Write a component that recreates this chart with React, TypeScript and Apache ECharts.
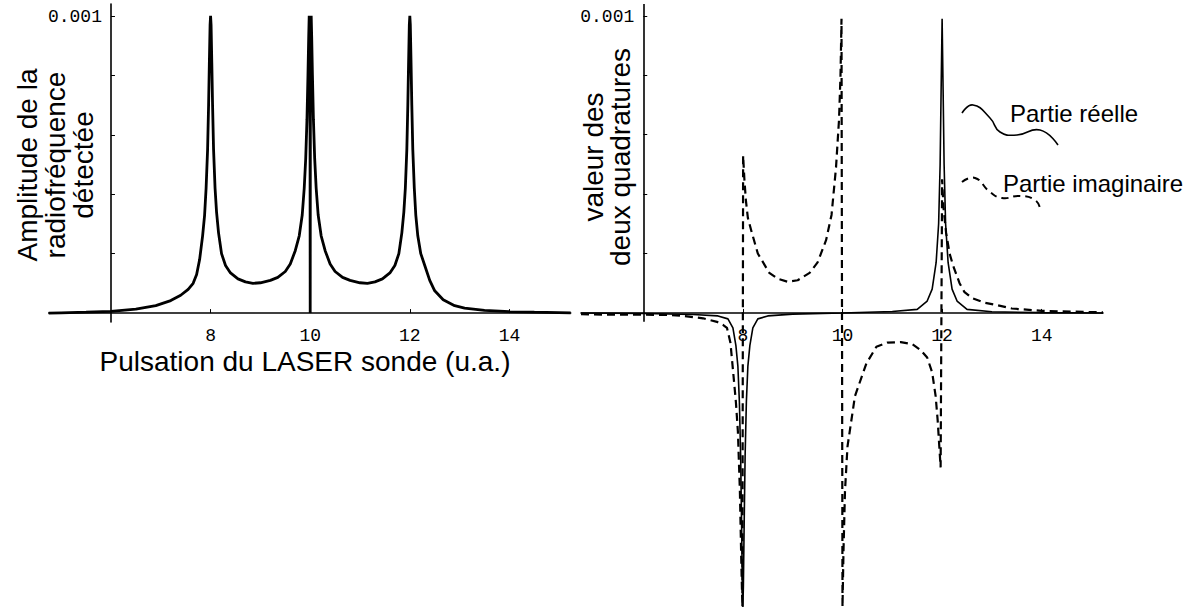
import React, { useEffect, useRef } from "react";
import * as echarts from "echarts";

// ---------- data ----------
// Left panel: amplitude of detected RF (units of 1e-3)
const ampX = [4.75, 5.0, 5.5, 6.0, 6.5, 6.9, 7.2, 7.4, 7.55, 7.65, 7.72, 7.78, 7.84, 7.88, 7.91, 7.94, 7.96, 7.975, 7.99, 8.0, 8.01, 8.025, 8.04, 8.06, 8.09, 8.12, 8.16, 8.22, 8.3, 8.4, 8.55, 8.7, 8.85, 9.0, 9.2, 9.35, 9.5, 9.6, 9.7, 9.78, 9.84, 9.88, 9.91, 9.935, 9.955, 9.97, 9.98, 9.99, 9.997, 10.0, 10.003, 10.01, 10.02, 10.03, 10.045, 10.065, 10.09, 10.12, 10.16, 10.22, 10.3, 10.4, 10.5, 10.65, 10.8, 11.0, 11.15, 11.3, 11.45, 11.6, 11.7, 11.78, 11.84, 11.88, 11.91, 11.94, 11.96, 11.975, 11.99, 12.0, 12.01, 12.025, 12.04, 12.06, 12.09, 12.12, 12.16, 12.22, 12.3, 12.4, 12.5, 12.67, 12.9, 13.1, 13.5, 14.0, 14.5, 15.23];
const ampY = [0.0, 0.001, 0.003, 0.006, 0.013, 0.025, 0.042, 0.06, 0.08, 0.1, 0.13, 0.18, 0.26, 0.33, 0.42, 0.55, 0.7, 0.84, 0.97, 1.0, 0.97, 0.84, 0.7, 0.55, 0.42, 0.34, 0.27, 0.2, 0.16, 0.135, 0.115, 0.105, 0.1, 0.102, 0.11, 0.12, 0.14, 0.165, 0.21, 0.26, 0.33, 0.42, 0.52, 0.65, 0.8, 0.93, 1.0, 0.9, 0.6, 0.0, 0.6, 0.9, 1.0, 0.93, 0.8, 0.65, 0.52, 0.42, 0.33, 0.26, 0.21, 0.165, 0.14, 0.12, 0.11, 0.102, 0.1, 0.105, 0.115, 0.135, 0.16, 0.2, 0.27, 0.34, 0.42, 0.55, 0.7, 0.84, 0.97, 1.0, 0.97, 0.84, 0.7, 0.55, 0.42, 0.33, 0.26, 0.2, 0.16, 0.11, 0.075, 0.045, 0.025, 0.017, 0.009, 0.005, 0.003, 0.001];

// Right panel: real part (solid), units of 1e-3
const reX = [4.75, 6.0, 7.0, 7.5, 7.7, 7.8, 7.86, 7.9, 7.93, 7.955, 7.975, 7.99, 8.0, 8.01, 8.025, 8.045, 8.07, 8.1, 8.14, 8.2, 8.3, 8.5, 9.0, 10.0, 11.0, 11.5, 11.7, 11.8, 11.88, 11.93, 11.96, 11.98, 12.0, 12.02, 12.04, 12.07, 12.12, 12.2, 12.3, 12.5, 13.0, 14.0, 15.23];
const reY = [0.0, -0.002, -0.005, -0.01, -0.02, -0.05, -0.11, -0.18, -0.3, -0.48, -0.72, -0.92, -0.99, -0.92, -0.72, -0.48, -0.3, -0.18, -0.11, -0.05, -0.02, -0.01, -0.004, 0.0, 0.005, 0.012, 0.04, 0.08, 0.17, 0.3, 0.5, 0.75, 0.99, 0.75, 0.5, 0.3, 0.17, 0.08, 0.04, 0.012, 0.004, 0.001, 0.0];

// Right panel: imaginary part (dashed), units of 1e-3
const imX = [4.75, 5.0, 5.5, 6.0, 6.5, 6.8, 7.2, 7.48, 7.6, 7.68, 7.75, 7.8, 7.86, 7.9, 7.94, 7.97, 7.99, 8.005, 8.03, 8.06, 8.1, 8.18, 8.3, 8.53, 8.7, 8.9, 9.1, 9.34, 9.5, 9.67, 9.78, 9.87, 9.93, 9.96, 9.98, 10.0, 10.02, 10.05, 10.1, 10.25, 10.48, 10.68, 10.9, 11.17, 11.4, 11.57, 11.7, 11.8, 11.87, 11.91, 11.97, 12.0, 12.03, 12.08, 12.15, 12.22, 12.35, 12.45, 12.6, 12.86, 13.08, 13.4, 14.0, 15.23];
const imY = [-0.004, -0.005, -0.006, -0.006, -0.007, -0.01, -0.018, -0.03, -0.04, -0.05, -0.1, -0.19, -0.3, -0.4, -0.6, -0.85, -0.99, 0.53, 0.45, 0.38, 0.32, 0.27, 0.2, 0.135, 0.115, 0.105, 0.11, 0.135, 0.17, 0.245, 0.33, 0.49, 0.65, 0.8, 0.99, -0.99, -0.8, -0.6, -0.45, -0.28, -0.17, -0.114, -0.1, -0.098, -0.105, -0.125, -0.15, -0.2, -0.28, -0.36, -0.52, 0.45, 0.35, 0.27, 0.2, 0.16, 0.1, 0.07, 0.05, 0.034, 0.027, 0.015, 0.007, 0.002];

const UNIT = 1e-3;
const xTickLabels = [8, 10, 12, 14];
const yTickValues = [0.0002, 0.0004, 0.0006, 0.0008, 0.001];
const yLabelValues = [0.001];
const yAxisAt = 6;

const texts = {
  leftYTitle: "Amplitude de la\nradiofréquence\ndétectée",
  rightYTitle: "valeur des\ndeux quadratures",
  xTitle: "Pulsation du LASER sonde (u.a.)",
  legendRe: "Partie réelle",
  legendIm: "Partie imaginaire",
};

// ---------- layout ----------
const L = { left: 48.7, width: 522, xMin: 4.75, xMax: 15.23, top: 4, height: 318, yMin: -0.00003, yMax: 0.00104 };
const R = { left: 581, width: 522, xMin: 4.75, xMax: 15.23, top: 4, height: 606, yMin: -0.001, yMax: 0.00104 };

const pairs = (xs: number[], ys: number[]) => xs.map((x, i) => [x, ys[i] * UNIT]);

const TICK_FONT = "Liberation Mono";
const TITLE_FONT = "Liberation Sans";

function xAxisCfg(grid: number, g: typeof L) {
  const offset = -((0 - g.yMin) / (g.yMax - g.yMin)) * g.height;
  return {
    gridIndex: grid,
    type: "value",
    min: g.xMin,
    max: g.xMax,
    position: "bottom",
    offset,
    axisLine: { show: true, onZero: false, lineStyle: { color: "#000", width: 1.6 } },
    axisTick: { show: true, inside: true, length: 4, customValues: xTickLabels, lineStyle: { color: "#000", width: 1 } },
    axisLabel: { show: false },
    splitLine: { show: false },
  };
}

function yAxisCfg(grid: number, g: typeof L, showLine: boolean) {
  const offset = -((yAxisAt - g.xMin) / (g.xMax - g.xMin)) * g.width;
  return {
    gridIndex: grid,
    type: "value",
    min: g.yMin,
    max: g.yMax,
    position: "left",
    offset,
    axisLine: { show: showLine, onZero: false, lineStyle: { color: "#000", width: 1.6 } },
    axisTick: { show: true, inside: true, length: 4, customValues: yTickValues, lineStyle: { color: "#000", width: 1 } },
    axisLabel: { show: false },
    splitLine: { show: false },
  };
}

export default function App() {
  const ref = useRef<HTMLDivElement>(null);
  useEffect(() => {
    if (!ref.current) return;
    const chart = echarts.init(ref.current, null, { renderer: "svg" });
    const baseGraphics: any[] = [
      {
        type: "text",
        x: 55,
        y: 165,
        rotation: Math.PI / 2,
        style: { text: texts.leftYTitle, fontFamily: TITLE_FONT, fontSize: 28, lineHeight: 28, fill: "#000", align: "center", verticalAlign: "middle" },
      },
      {
        type: "text",
        x: 607,
        y: 157,
        rotation: Math.PI / 2,
        style: { text: texts.rightYTitle, fontFamily: TITLE_FONT, fontSize: 28, lineHeight: 27, fill: "#000", align: "center", verticalAlign: "middle" },
      },
      {
        type: "text",
        x: 305,
        y: 361,
        style: { text: texts.xTitle, fontFamily: TITLE_FONT, fontSize: 28, fill: "#000", align: "center", verticalAlign: "middle" },
      },
      {
        type: "polyline",
        shape: { points: [[962, 113], [973, 105], [990, 118], [1000, 132], [1017, 135], [1040, 130], [1058, 145]], smooth: 0.5 },
        style: { stroke: "#000", lineWidth: 1.6, fill: null },
      },
      {
        type: "text",
        x: 1010,
        y: 113,
        style: { text: texts.legendRe, fontFamily: TITLE_FONT, fontSize: 24, fill: "#000", align: "left", verticalAlign: "middle" },
      },
      {
        type: "polyline",
        shape: { points: [[962, 182], [975, 178], [990, 192], [1002, 198], [1020, 196], [1035, 200], [1040, 208]], smooth: 0.5 },
        style: { stroke: "#000", lineWidth: 2, fill: null, lineDash: [7, 5] },
      },
      {
        type: "text",
        x: 1003,
        y: 183,
        style: { text: texts.legendIm, fontFamily: TITLE_FONT, fontSize: 24, fill: "#000", align: "left", verticalAlign: "middle" },
      },
    ];
    const option: any = {
      animation: false,
      backgroundColor: "#fff",
      grid: [
        { left: L.left, top: L.top, width: L.width, height: L.height, containLabel: false, outerBoundsMode: "none" },
        { left: R.left, top: R.top, width: R.width, height: R.height, containLabel: false, outerBoundsMode: "none" },
      ],
      xAxis: [xAxisCfg(0, L), xAxisCfg(1, R as any)],
      yAxis: [yAxisCfg(0, L, true), yAxisCfg(1, R as any, false)],
      series: [
        {
          name: "Amplitude",
          type: "line",
          xAxisIndex: 0,
          yAxisIndex: 0,
          data: pairs(ampX, ampY),
          showSymbol: false,
          symbol: "none",
          lineStyle: { color: "#000", width: 2.8 },
          z: 3,
        },
        {
          name: texts.legendRe,
          type: "line",
          xAxisIndex: 1,
          yAxisIndex: 1,
          data: pairs(reX, reY),
          showSymbol: false,
          symbol: "none",
          lineStyle: { color: "#000", width: 1.6 },
          z: 3,
          markLine: {
            silent: true,
            symbol: "none",
            label: { show: false },
            lineStyle: { color: "#000", width: 1.6, type: "solid" },
            data: [[{ coord: [yAxisAt, L.yMin] }, { coord: [yAxisAt, R.yMax] }]],
          },
        },
        {
          name: texts.legendIm,
          type: "line",
          xAxisIndex: 1,
          yAxisIndex: 1,
          data: pairs(imX, imY),
          showSymbol: false,
          symbol: "none",
          lineStyle: { color: "#000", width: 2.2, type: [8, 5] },
          z: 4,
        },
      ],
      graphic: baseGraphics,
    };
    chart.setOption(option);

    // tick labels, placed through the axes' own scales
    const labelGraphics: any[] = [];
    [0, 1].forEach((gi) => {
      xTickLabels.forEach((v) => {
        const p = chart.convertToPixel({ xAxisIndex: gi, yAxisIndex: gi } as any, [v, 0]) as number[];
        labelGraphics.push({
          type: "text",
          x: p[0],
          y: p[1] + 23,
          style: { text: String(v), fontFamily: TICK_FONT, fontSize: 18, fill: "#000", align: "center", verticalAlign: "middle" },
        });
      });
      yLabelValues.forEach((v) => {
        const p = chart.convertToPixel({ xAxisIndex: gi, yAxisIndex: gi } as any, [yAxisAt, v]) as number[];
        labelGraphics.push({
          type: "text",
          x: p[0] - 9,
          y: p[1] + 1,
          style: { text: v.toFixed(3), fontFamily: TICK_FONT, fontSize: 18, fill: "#000", align: "right", verticalAlign: "middle" },
        });
      });
    });
    chart.setOption({ graphic: [...baseGraphics, ...labelGraphics] });
    return () => chart.dispose();
  }, []);
  return <div ref={ref} style={{ position: "fixed", left: 0, top: 0, width: 1197, height: 609 }} />;
}
